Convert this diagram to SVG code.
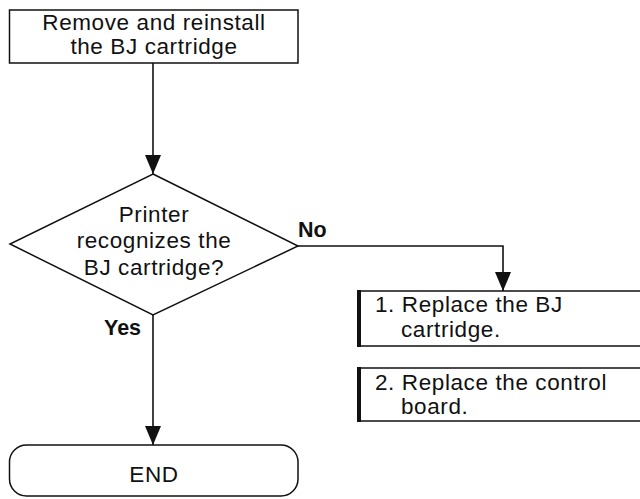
<svg xmlns="http://www.w3.org/2000/svg" width="640" height="499" viewBox="0 0 640 499">
  <style>
    .shape { fill: #ffffff; stroke: #111111; stroke-width: 1.5; }
    .txt { font-family: "Liberation Sans", Arial, sans-serif; font-size: 22.5px; letter-spacing: 0.6px; fill: #111111; }
    .lbl { font-family: "Liberation Sans", Arial, sans-serif; font-size: 21.5px; font-weight: bold; fill: #111111; }
    .wire { fill: none; stroke: #111111; stroke-width: 1.6; }
    .bar { stroke: #111111; stroke-width: 4; }
  </style>
  <defs>
    <marker id="arrowDown" markerUnits="userSpaceOnUse" markerWidth="16" markerHeight="20" viewBox="0 0 16 20" refX="8" refY="19" orient="0">
      <path d="M0,0 L16,0 L8,19 Z" fill="#111111"/>
    </marker>
  </defs>

  <g id="connectors">
    <line class="wire" x1="153" y1="63" x2="153" y2="174" marker-end="url(#arrowDown)"/>
    <polyline class="wire" points="298,246 503,246 503,291" marker-end="url(#arrowDown)"/>
    <line class="wire" x1="153" y1="315" x2="153" y2="445" marker-end="url(#arrowDown)"/>
    <text class="lbl" x="298" y="237">No</text>
    <text class="lbl" x="104" y="335">Yes</text>
  </g>

  <g id="node-reinstall">
    <rect class="shape" x="9.5" y="10" width="288.5" height="53"/>
    <text class="txt" x="154" y="30" text-anchor="middle">Remove and reinstall</text>
    <text class="txt" x="154" y="54" text-anchor="middle">the BJ cartridge</text>
  </g>

  <g id="node-recognize">
    <polygon class="shape" points="153,174 298,246 153,315 10,244"/>
    <text class="txt" x="154" y="222" text-anchor="middle">Printer</text>
    <text class="txt" x="154" y="248" text-anchor="middle">recognizes the</text>
    <text class="txt" x="154" y="275" text-anchor="middle">BJ cartridge?</text>
  </g>

  <g id="node-replace-cartridge">
    <rect class="shape" x="358" y="291" width="290" height="55"/>
    <line class="bar" x1="359" y1="290" x2="359" y2="347"/>
    <text class="txt" x="375" y="312">1. Replace the BJ</text>
    <text class="txt" x="401" y="337">cartridge.</text>
  </g>

  <g id="node-replace-board">
    <rect class="shape" x="358" y="368" width="290" height="53"/>
    <line class="bar" x1="359" y1="367" x2="359" y2="422"/>
    <text class="txt" x="375" y="390">2. Replace the control</text>
    <text class="txt" x="401" y="414">board.</text>
  </g>

  <g id="node-end">
    <rect class="shape" x="9.5" y="445" width="288.5" height="51" rx="17" ry="17"/>
    <text class="txt" x="154" y="482" text-anchor="middle">END</text>
  </g>
</svg>
